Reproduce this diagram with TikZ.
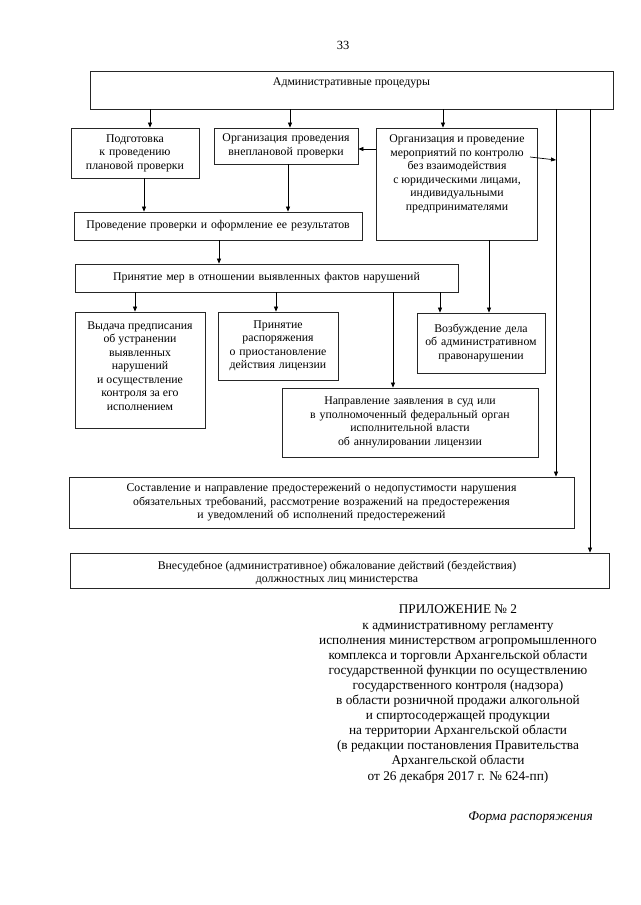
\documentclass[tikz,border=0pt]{standalone}
\usepackage{fontspec}
\setmainfont{Liberation Serif}
\usetikzlibrary{arrows.meta}
\newcommand\bxfont{\fontsize{11.8}{13.5}\selectfont}
\newcommand\apfont{\fontsize{13.3}{15.1}\selectfont}
\begin{document}
\begin{tikzpicture}[x=1pt,y=-1pt,
  box/.style={draw=black!85, line width=0.8pt, inner sep=0pt, align=center, font=\bxfont},
  txt/.style={inner sep=0pt, align=center, font=\bxfont},
  arr/.style={line width=0.7pt, -{Triangle[length=5pt,width=4pt]}},
  ln/.style={line width=0.7pt}]
\fill[white] (0,0) rectangle (640,905);
\useasboundingbox (0,0) rectangle (640,905);

\node[inner sep=0pt, font=\fontsize{12.5}{14}\selectfont] (pg) at (343,45) {33};

% boxes
\node[box, minimum width=523pt, minimum height=38pt] (top) at (351.5,90) {};
\node[txt] (t0) at (351.5,83) {Административные процедуры};

\node[box, minimum width=128pt, minimum height=50pt, text width=124pt] (b1) at (135,153)
  {Подготовка\\к проведению\\плановой проверки};
\node[box, minimum width=144pt, minimum height=36pt, text width=140pt] (b2) at (286,146)
  {Организация проведения\\внеплановой проверки};
\node[box, minimum width=161pt, minimum height=112pt] (b3) at (456.5,184) {};
\node[txt] (t3) at (457,174) {Организация и проведение\\мероприятий по контролю\\без взаимодействия\\с юридическими лицами,\\индивидуальными\\предпринимателями};

\node[box, minimum width=288pt, minimum height=28pt, text width=284pt] (b4) at (218,226)
  {Проведение проверки и оформление ее результатов};
\node[box, minimum width=383pt, minimum height=28pt, text width=379pt] (b5) at (266.5,278)
  {Принятие мер в отношении выявленных фактов нарушений};

\node[box, minimum width=130pt, minimum height=116pt] (b6) at (140,370) {};
\node[txt] (t6) at (140,366) {Выдача предписания\\об устранении\\выявленных\\нарушений\\и осуществление\\контроля за его\\исполнением};
\node[box, minimum width=120pt, minimum height=68pt, text width=116pt] (b7) at (278,346)
  {Принятие\\распоряжения\\о приостановление\\действия лицензии};
\node[box, minimum width=128pt, minimum height=60pt, text width=124pt] (b8) at (481,343)
  {Возбуждение дела\\об административном\\правонарушении};
\node[box, minimum width=256pt, minimum height=69pt, text width=252pt] (b9) at (410,422.5)
  {Направление заявления в суд или\\в уполномоченный федеральный орган\\исполнительной власти\\об аннулировании лицензии};
\node[box, minimum width=505pt, minimum height=51pt, text width=501pt] (b10) at (321.5,502.5)
  {Составление и направление предостережений о недопустимости нарушения\\обязательных требований, рассмотрение возражений на предостережения\\и уведомлений об исполнений предостережений};
\node[box, minimum width=539pt, minimum height=35pt] (b11) at (339.5,570.5) {};
\node[txt] (t11) at (337,573) {Внесудебное (административное) обжалование действий (бездействия)\\должностных лиц министерства};

% connectors
\draw[arr] (150,0 |- top.south) -- (150,0 |- b1.north);
\draw[arr] (290,0 |- top.south) -- (290,0 |- b2.north);
\draw[arr] (443,0 |- top.south) -- (443,0 |- b3.north);
\draw[arr] (b3.west |- 0,149) -- (b2.east |- 0,149);
\coordinate (s3) at (530,157);
\coordinate (e3) at (556,160);
\draw[arr] (s3) -- (e3);
\draw[arr] (144,0 |- b1.south) -- (144,0 |- b4.north);
\draw[arr] (288,0 |- b2.south) -- (288,0 |- b4.north);
\draw[arr] (219,0 |- b4.south) -- (219,0 |- b5.north);
\draw[arr] (489,0 |- b3.south) -- (489,0 |- b8.north);
\draw[arr] (135,0 |- b5.south) -- (135,0 |- b6.north);
\draw[arr] (276,0 |- b5.south) -- (276,0 |- b7.north);
\draw[arr] (393,0 |- b5.south) -- (393,0 |- b9.north);
\draw[arr] (440,0 |- b5.south) -- (440,0 |- b8.north);
\draw[arr] (556,0 |- top.south) -- (556,0 |- b10.north);
\draw[arr] (590,0 |- top.south) -- (590,0 |- b11.north);

% appendix text
\node[inner sep=0pt, align=center, font=\apfont] (ap) at (458,694)
  {ПРИЛОЖЕНИЕ № 2\\к административному регламенту\\исполнения министерством агропромышленного\\комплекса и торговли Архангельской области\\государственной функции по осуществлению\\государственного контроля (надзора)\\в области розничной продажи алкогольной\\и спиртосодержащей продукции\\на территории Архангельской области\\(в редакции постановления Правительства\\Архангельской области\\от 26 декабря 2017 г. № 624-пп)};
\node[inner sep=0pt, anchor=east, font=\apfont\itshape] (fr) at (593,818) {Форма распоряжения};
\end{tikzpicture}
\end{document}
